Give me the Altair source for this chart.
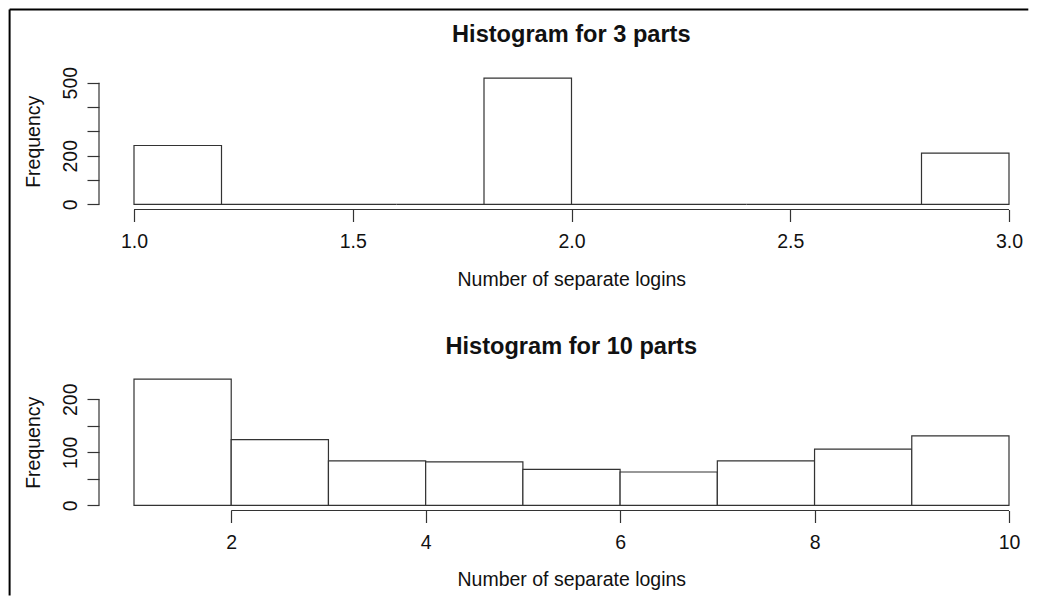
import altair as alt
import pandas as pd

# ---------------- data ----------------
top_bin_edges = [1.0, 1.2, 1.4, 1.6, 1.8, 2.0, 2.2, 2.4, 2.6, 2.8, 3.0]
top_counts = [242, 0, 0, 0, 519, 0, 0, 0, 0, 211]
bot_bin_edges = [1, 2, 3, 4, 5, 6, 7, 8, 9, 10]
bot_counts = [238, 124, 84, 82, 68, 63, 84, 106, 131]

top_x_ticks = [1.0, 1.5, 2.0, 2.5, 3.0]
bot_x_ticks = [2, 4, 6, 8, 10]
top_y_ticks = [0, 100, 200, 300, 400, 500]
top_y_labels = [0, 200, 500]
bot_y_ticks = [0, 50, 100, 150, 200]
bot_y_labels = [0, 100, 200]

titles = ["Histogram for 3 parts", "Histogram for 10 parts"]
x_title = "Number of separate logins"
y_title = "Frequency"

# ---------------- style ----------------
FONT = "Liberation Sans"
TXT = "#111111"
LINE = "#333333"
W = 929.3      # drawn plot width (R plot region is cut by the right edge)
H = 136.5
R_W = 945.0    # full width of the R plot region
TICK_FS = 19.5
TITLE_FS = 23.6
FRAME_L = 89.4
FRAME_T = 63.4


def panel(edges, counts, xt, yt, yl, title, fmt, title_y, frame=False):
    df = pd.DataFrame({"start": edges[:-1], "end": edges[1:], "count": counts})
    lo, hi = edges[0], edges[-1]
    ext = (hi - lo) * 0.04
    x0, x1 = lo - ext, hi + ext
    x_dom = [x0, x0 + (x1 - x0) * W / R_W]
    ymax = max(counts)
    y_dom = [-ymax * 0.04, ymax * 1.04]
    xscale = alt.Scale(domain=x_dom, nice=False, zero=False)
    yscale = alt.Scale(domain=y_dom, nice=False, zero=False)
    label_expr = " || ".join(f"datum.value == {v}" for v in yl)

    xaxis = alt.Axis(
        values=xt, tickCount=len(xt), format=fmt, domain=False, grid=False,
        tickSize=12, tickColor=LINE, tickWidth=1.2,
        labelFont=FONT, labelFontSize=TICK_FS, labelColor=TXT,
        labelPadding=10.7, labelOverlap=False, labelFlush=False,
        title=x_title, titleFont=FONT, titleFontSize=TICK_FS,
        titleFontWeight="normal", titleColor=TXT,
        titleX=472.3, titleY=75.5, titleAlign="center",
        titleBaseline="alphabetic",
    )
    yaxis = alt.Axis(
        values=yt, tickCount=len(yt), domain=False, grid=False,
        tickSize=12, tickColor=LINE, tickWidth=1.2,
        labelFont=FONT, labelFontSize=TICK_FS, labelColor=TXT,
        labelAngle=270, labelAlign="center", labelBaseline="bottom",
        labelPadding=6.3, labelOverlap=False, labelFlush=False,
        labelExpr=f"({label_expr}) ? datum.label : ''",
        title=y_title, titleFont=FONT, titleFontSize=TICK_FS,
        titleFontWeight="normal", titleColor=TXT,
        titleAngle=270, titleX=-59, titleY=H / 2,
        titleAlign="center", titleBaseline="alphabetic",
    )

    bars = alt.Chart(df).mark_rect(
        fill="white", stroke=LINE, strokeWidth=1.2
    ).encode(
        x=alt.X("start:Q", scale=xscale, axis=xaxis),
        x2="end:Q",
        y=alt.Y("count:Q", scale=yscale, axis=yaxis),
        y2=alt.datum(0),
    )

    xline = alt.Chart(pd.DataFrame({"start": [min(xt)], "end": [max(xt)]})).mark_rule(
        color=LINE, strokeWidth=1.2
    ).encode(x="start:Q", x2="end:Q", y=alt.value(H))

    yline = alt.Chart(pd.DataFrame({"count": [max(yt)]})).mark_rule(
        color=LINE, strokeWidth=1.2
    ).encode(x=alt.value(0), y="count:Q", y2=alt.datum(min(yt)))

    ttl = alt.Chart(pd.DataFrame({"t": [title]})).mark_text(
        font=FONT, fontSize=TITLE_FS, fontWeight="bold", align="center",
        baseline="alphabetic", color=TXT
    ).encode(text="t:N", x=alt.value(472.3), y=alt.value(title_y))

    layers = [bars, xline, yline, ttl]
    if frame:
        fdf = pd.DataFrame({"k": [0]})
        left = alt.Chart(fdf).mark_rule(color="black", strokeWidth=2).encode(
            x=alt.value(-FRAME_L), y=alt.value(-FRAME_T), y2=alt.value(522.4))
        top = alt.Chart(fdf).mark_rule(color="black", strokeWidth=2).encode(
            x=alt.value(-FRAME_L), x2=alt.value(W), y=alt.value(-FRAME_T))
        layers += [left, top]
    return alt.layer(*layers).properties(width=W, height=H)


top_panel = panel(top_bin_edges, top_counts, top_x_ticks, top_y_ticks,
                  top_y_labels, titles[0], ".1f", -30.9, frame=True)
bot_panel = panel(bot_bin_edges, bot_counts, bot_x_ticks, bot_y_ticks,
                  bot_y_labels, titles[1], "d", -19.7)

chart = alt.vconcat(
    top_panel, bot_panel, spacing=164, bounds="flush", padding=0,
    background="white"
).configure_view(strokeWidth=0)

chart.save("out.html", embed_options={"renderer": "svg", "actions": False})
